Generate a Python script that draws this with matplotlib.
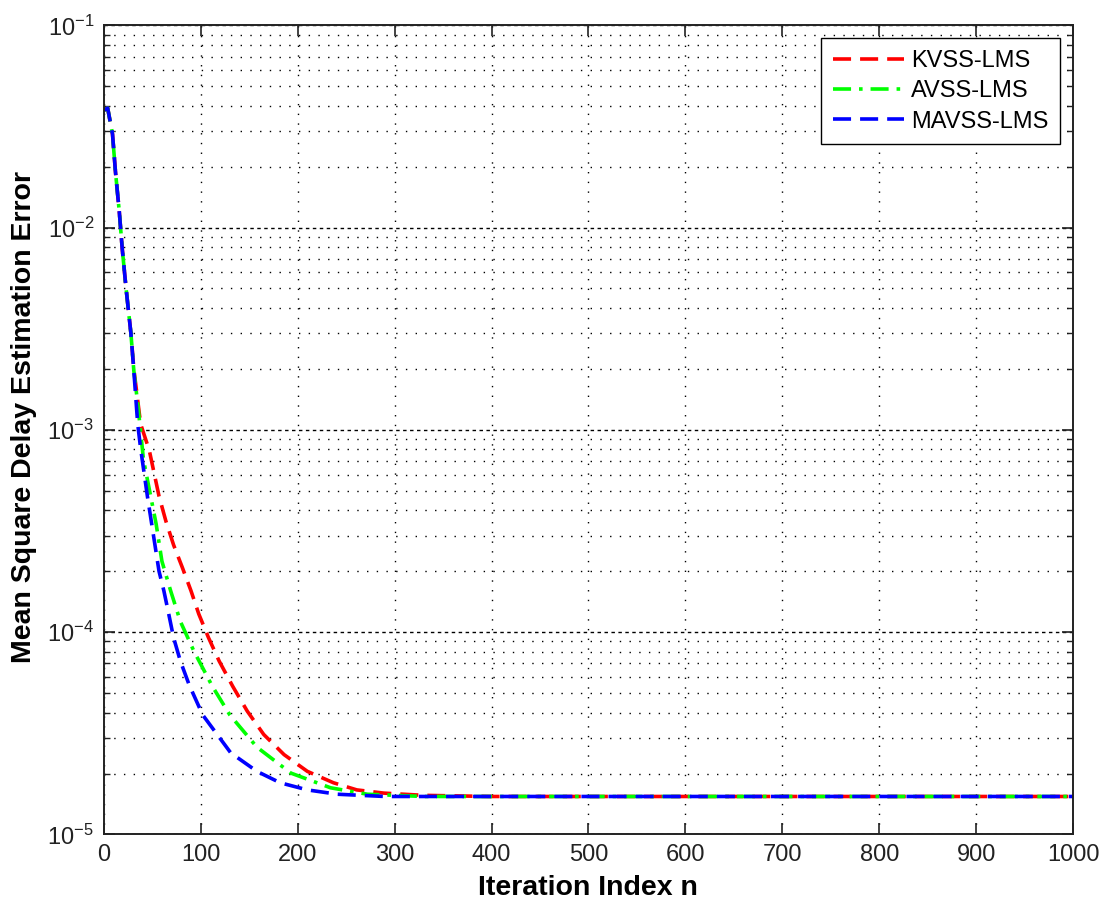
import matplotlib.pyplot as plt
from matplotlib.ticker import LogLocator, NullFormatter, FixedLocator
import numpy as np

plt.rcParams['font.family'] = ['Liberation Sans', 'DejaVu Sans']
plt.rcParams['mathtext.fontset'] = 'custom'
plt.rcParams['mathtext.rm'] = 'Liberation Sans'

# values (iteration index, mean square delay error)
n_kvss = [0, 4, 9, 12, 16, 19, 23, 28, 31, 35, 38, 47, 57, 64, 72, 81, 90, 98, 108, 119, 133, 148,
          165, 186, 210, 237, 261, 289, 330, 400, 1000]
e_kvss = [0.038, 0.039, 0.029, 0.019, 0.012, 7.9e-3, 5.0e-3, 3.0e-3, 2.0e-3, 1.4e-3, 1.07e-3, 7.9e-4,
          4.7e-4, 3.55e-4, 2.7e-4, 2.09e-4, 1.6e-4, 1.23e-4, 9.4e-5, 7.2e-5, 5.4e-5, 4.07e-5,
          3.12e-5, 2.48e-5, 2.05e-5, 1.8e-5, 1.66e-5, 1.6e-5, 1.56e-5, 1.54e-5, 1.54e-5]

n_avss = [0, 4, 9, 12, 16, 19, 23, 28, 31, 35, 41, 48, 54, 60, 69, 79, 93, 112, 130, 158, 193,
          234, 272, 330, 1000]
e_avss = [0.038, 0.039, 0.029, 0.019, 0.012, 7.9e-3, 5.0e-3, 3.0e-3, 1.96e-3, 1.35e-3, 7.1e-4, 4.8e-4,
          3.43e-4, 2.24e-4, 1.6e-4, 1.13e-4, 8.05e-5, 5.4e-5, 3.9e-5, 2.7e-5, 2.01e-5,
          1.7e-5, 1.58e-5, 1.54e-5, 1.54e-5]

n_mavss = [0, 4, 9, 12, 16, 19, 23, 28, 31, 35, 38, 45, 57, 62, 67, 72, 79, 88, 102,
           131, 158, 182, 210, 241, 290, 1000]
e_mavss = [0.038, 0.039, 0.029, 0.019, 0.012, 7.9e-3, 5.0e-3, 3.0e-3, 1.96e-3, 1.07e-3, 8.1e-4,
           4.7e-4, 2.0e-4, 1.6e-4, 1.23e-4, 9.4e-5, 7.2e-5, 5.5e-5, 3.9e-5,
           2.53e-5, 2.05e-5, 1.8e-5, 1.66e-5, 1.58e-5, 1.54e-5, 1.54e-5]

fig = plt.figure(figsize=(11.04, 9.05), dpi=100)
ax = fig.add_axes([0.094, 0.078, 0.878, 0.894])

ax.plot(n_kvss, e_kvss, color='#ff0000', lw=2.6, dashes=(5, 2.5), label='KVSS-LMS')
ax.plot(n_avss, e_avss, color='#00ff00', lw=2.6, dashes=(5, 2.2, 1, 2.2), label='AVSS-LMS')
ax.plot(n_mavss, e_mavss, color='#0000ff', lw=2.6, dashes=(5, 2.5), label='MAVSS-LMS')

ax.set_yscale('log')
ax.set_xlim(0, 1000)
ax.set_ylim(1e-5, 1e-1)
ax.xaxis.set_major_locator(FixedLocator(np.arange(0, 1001, 100)))
ax.yaxis.set_major_locator(LogLocator(base=10, numticks=10))
ax.yaxis.set_minor_locator(LogLocator(base=10, subs=np.arange(2, 10), numticks=20))
ax.yaxis.set_minor_formatter(NullFormatter())

ax.grid(True, which='major', axis='x', color='black', lw=1.0, linestyle=(0, (1, 6)))
ax.grid(True, which='major', axis='y', color='black', lw=1.0, linestyle=(0, (2.5, 2.5)))
ax.grid(True, which='minor', axis='y', color='black', lw=1.0, linestyle=(0, (1, 6)))

ax.tick_params(which='both', direction='in', top=True, right=True, labelsize=17, colors='#222222')
ax.tick_params(which='major', length=8, width=1.2, pad=7)
ax.tick_params(which='minor', length=4, width=1.0)
for s in ax.spines.values():
    s.set_linewidth(1.4)
    s.set_color('#222222')

ax.set_xlabel('Iteration Index n', fontsize=20.5, fontweight='bold')
ax.set_ylabel('Mean Square Delay Estimation Error', fontsize=20.5, fontweight='bold')
ax.xaxis.set_label_coords(0.5, -0.05)
ax.yaxis.set_label_coords(-0.069, 0.516)

leg = ax.legend(loc='upper right', fontsize=17, fancybox=False, framealpha=1, edgecolor='black',
                handlelength=3.0, borderaxespad=0.55, labelspacing=0.35, handletextpad=0.3,
                borderpad=0.5)
leg.get_frame().set_linewidth(1.0)

fig.savefig('out.png', dpi=100)
